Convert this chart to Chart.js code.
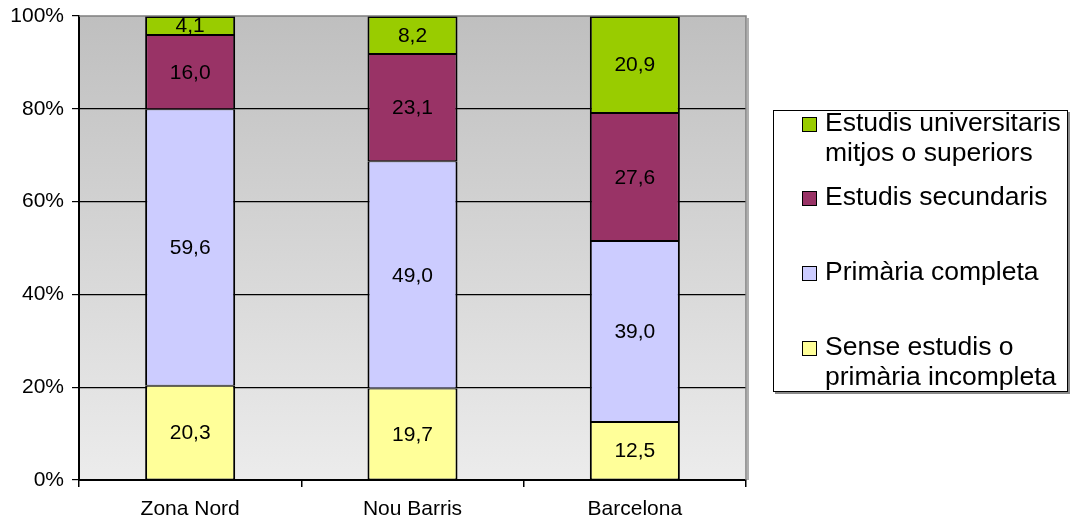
<!DOCTYPE html>
<html>
<head>
<meta charset="utf-8">
<script src="https://cdn.jsdelivr.net/npm/chart.js@4.4.0/dist/chart.umd.min.js"></script>
<style>
  html,body{margin:0;padding:0;background:#fff;}
  #wrap{position:relative;width:1077px;height:527px;}
  #legend{position:absolute;left:773px;top:110px;width:293px;height:280px;border:1.5px solid #000;box-shadow:2px 2px 0 #8a8a8a;background:#fff;
    font-family:"Liberation Sans",Arial,sans-serif;font-size:26.5px;color:#000;}
  .item{position:absolute;left:28px;line-height:30px;}
  .sw{position:absolute;left:0;width:13px;height:13px;border:1.5px solid #000;}
  .txt{position:absolute;left:23px;white-space:nowrap;}
</style>
</head>
<body>
<div id="wrap">
  <canvas id="c" width="1077" height="527"></canvas>
  <div id="legend"></div>
</div>
<script>
const categories = ['Zona Nord', 'Nou Barris', 'Barcelona'];
const seriesNames = ['Sense estudis o primària incompleta', 'Primària completa', 'Estudis secundaris', 'Estudis universitaris mitjos o superiors'];
const senseEstudis = [20.3, 19.7, 12.5];
const primaria = [59.6, 49.0, 39.0];
const secundaris = [16.0, 23.1, 27.6];
const universitaris = [4.1, 8.2, 20.9];
const colors = ['#ffff99', '#ccccff', '#993366', '#99cc00'];
const yTicks = [0, 20, 40, 60, 80, 100];

const FONT = '"Liberation Sans", Arial, sans-serif';

// background gradient + gray top/right frame
const plotBg = {
  id: 'plotBg',
  beforeDraw(chart){
    const a = chart.chartArea, ctx = chart.ctx;
    const g = ctx.createLinearGradient(0, a.top, 0, a.bottom);
    g.addColorStop(0, '#bfbfbf');
    g.addColorStop(1, '#ececec');
    ctx.save();
    ctx.fillStyle = g;
    ctx.fillRect(a.left, a.top, a.right - a.left, a.bottom - a.top);
    ctx.restore();
  },
  afterDatasetsDraw(chart){
    const a = chart.chartArea, ctx = chart.ctx;
    ctx.save();
    ctx.strokeStyle = '#b0b0b0';
    ctx.lineWidth = 2;
    ctx.beginPath();
    ctx.moveTo(a.right + 2, a.top + 2); ctx.lineTo(a.right + 2, a.bottom);
    ctx.stroke();
    ctx.strokeStyle = '#7f7f7f';
    ctx.lineWidth = 1.5;
    ctx.beginPath();
    ctx.moveTo(a.left, a.top); ctx.lineTo(a.right, a.top); ctx.lineTo(a.right, a.bottom);
    ctx.stroke();
    ctx.restore();
  }
};

// value labels in the middle of each segment
const valueLabels = {
  id: 'valueLabels',
  afterDatasetsDraw(chart){
    const ctx = chart.ctx;
    ctx.save();
    ctx.font = '21px ' + FONT;
    ctx.fillStyle = '#000';
    ctx.textAlign = 'center';
    ctx.textBaseline = 'middle';
    chart.data.datasets.forEach((ds, i) => {
      chart.getDatasetMeta(i).data.forEach((bar, j) => {
        const v = ds.data[j];
        ctx.fillText(v.toFixed(1).replace('.', ','), bar.x, (bar.y + bar.base) / 2 + 1);
      });
    });
    ctx.restore();
  }
};

const seriesData = [senseEstudis, primaria, secundaris, universitaris];

new Chart(document.getElementById('c'), {
  type: 'bar',
  data: {
    labels: categories,
    datasets: seriesData.map((d, i) => ({
      label: seriesNames[i],
      data: d,
      backgroundColor: colors[i],
      borderColor: '#000',
      borderWidth: { left: 2, right: 2, top: i === 3 ? 2 : 1, bottom: 1 },
      borderSkipped: false,
      inflateAmount: 0,
      categoryPercentage: 1,
      barPercentage: 0.405
    }))
  },
  options: {
    responsive: false,
    animation: false,
    layout: { padding: { top: 16, right: 331, left: 0, bottom: 0 } },
    plugins: { legend: { display: false }, tooltip: { enabled: false } },
    scales: {
      x: {
        stacked: true,
        grid: { offset: true, drawOnChartArea: false, color: '#000', tickLength: 7, lineWidth: 1.5 },
        border: { color: '#000', width: 2 },
        ticks: { color: '#000', font: { family: FONT, size: 21 }, padding: 10 },
        afterFit(s){ s.height = 47; s.paddingLeft = 0; s.paddingRight = 0; }
      },
      y: {
        stacked: true,
        min: 0, max: 100,
        afterBuildTicks(s){ s.ticks = yTicks.map(v => ({ value: v })); },
        grid: {
          color: c => (c.tick && c.tick.value === 100) ? 'rgba(0,0,0,0)' : '#000',
          tickColor: '#000',
          lineWidth: 1.2,
          tickLength: 7
        },
        border: { color: '#000', width: 2 },
        ticks: { color: '#000', font: { family: FONT, size: 21 }, padding: 8, callback: v => v + '%' },
        afterFit(s){ s.width = 79; s.paddingTop = 0; s.paddingBottom = 0; }
      }
    }
  },
  plugins: [plotBg, valueLabels]
});

// legend (top series first)
const legendLines = [
  ['Estudis universitaris', 'mitjos o superiors'],
  ['Estudis secundaris'],
  ['Primària completa'],
  ['Sense estudis o', 'primària incompleta']
];
const legendTops = [-4, 70, 145, 220];
const legendColors = [colors[3], colors[2], colors[1], colors[0]];
const lg = document.getElementById('legend');
legendLines.forEach((lines, i) => {
  const it = document.createElement('div');
  it.className = 'item';
  it.style.top = legendTops[i] + 'px';
  it.innerHTML = `<div class="sw" style="top:10px;background:${legendColors[i]}"></div><div class="txt">${lines.join('<br>')}</div>`;
  lg.appendChild(it);
});
</script>
</body>
</html>
